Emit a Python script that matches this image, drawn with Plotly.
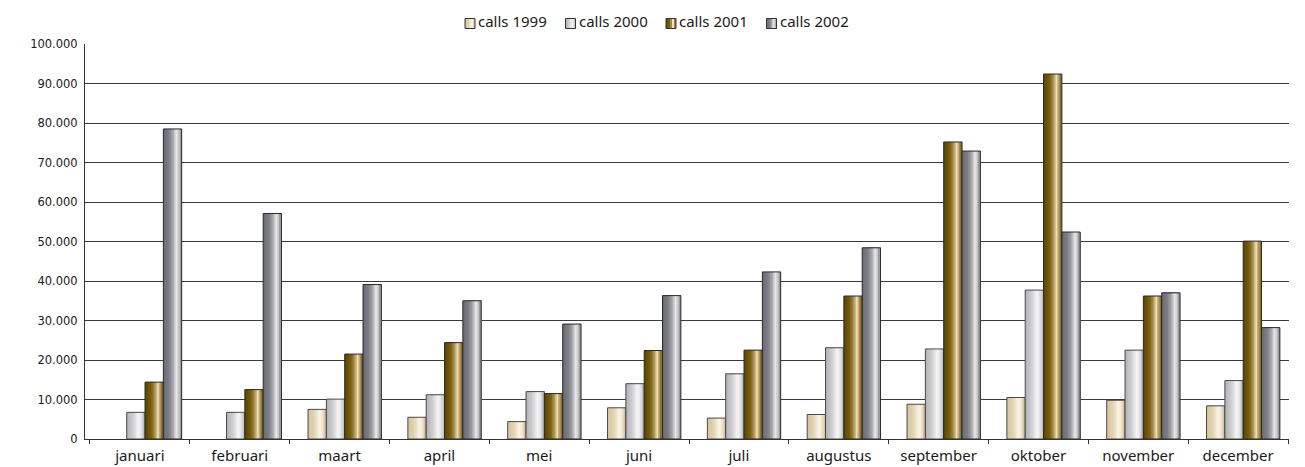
import plotly.graph_objects as go

# Monthly call volumes per year
months = ["januari", "februari", "maart", "april", "mei", "juni",
          "juli", "augustus", "september", "oktober", "november", "december"]

calls_1999 = [None, None, 7500, 5500, 4400, 7900, 5300, 6200, 8800, 10500, 9800, 8400]
calls_2000 = [6750, 6750, 10100, 11200, 12000, 14000, 16500, 23100, 22800, 37700, 22500, 14800]
calls_2001 = [14400, 12500, 21500, 24400, 11500, 22400, 22500, 36200, 75200, 92400, 36200, 50100]
calls_2002 = [78500, 57100, 39100, 35000, 29100, 36300, 42300, 48400, 72900, 52400, 37000, 28200]

series_names = ["calls 1999", "calls 2000", "calls 2001", "calls 2002"]
series_values = [calls_1999, calls_2000, calls_2001, calls_2002]

# Cylinder-like shading for each series: (position across bar, colour)
shading = [
    [(0.0, "#d6c49c"), (0.35, "#e2d4b4"), (0.65, "#fbf6ea"), (0.8, "#eee4cc"), (1.0, "#cfbd96")],
    [(0.0, "#b2b2b6"), (0.35, "#cfcfd2"), (0.65, "#f7f7f7"), (0.8, "#e2e2e4"), (1.0, "#b8b8bc")],
    [(0.0, "#5a4500"), (0.35, "#7a6112"), (0.58, "#b89e62"), (0.7, "#f0e4c4"), (0.82, "#b89c5c"), (1.0, "#7c6424")],
    [(0.0, "#696971"), (0.3, "#7e7e86"), (0.52, "#a4a4aa"), (0.7, "#e8e8ea"), (0.82, "#cfcfd2"), (1.0, "#8c8c92")],
]
outline_colors = ["#4a4a4a", "#4a4a4a", "#2b2b2b", "#2b2b2b"]

N_STRIPS = 12
BAR_W = 0.1836        # width of one bar in category units
GROUP_START = -0.316  # left edge of first bar relative to category centre

W, H = 1305, 467
M_L, M_R, M_T, M_B = 85, 16, 44, 28
PLOT_W = W - M_L - M_R
PLOT_H = H - M_T - M_B


def hex_to_rgb(h):
    h = h.lstrip("#")
    return tuple(int(h[i:i + 2], 16) for i in (0, 2, 4))


def shade_at(stops, t):
    for (p0, c0), (p1, c1) in zip(stops, stops[1:]):
        if p0 <= t <= p1:
            f = (t - p0) / (p1 - p0) if p1 > p0 else 0
            a, b = hex_to_rgb(c0), hex_to_rgb(c1)
            r = [round(a[i] + (b[i] - a[i]) * f) for i in range(3)]
            return "rgb({},{},{})".format(*r)
    return stops[-1][1]


def px_x(px):
    return (px - M_L) / PLOT_W


def px_y(py):
    return (H - M_B - py) / PLOT_H


fig = go.Figure()

for s, (name, vals) in enumerate(zip(series_names, series_values)):
    left = GROUP_START + s * BAR_W
    # vertical strips that build up the shading, each running to the right edge
    for k in range(N_STRIPS):
        t = (k + 0.5) / N_STRIPS
        fig.add_trace(go.Bar(
            x=months, y=vals, name=name, width=BAR_W * (1 - k / N_STRIPS),
            offset=left + BAR_W * k / N_STRIPS,
            marker=dict(color=shade_at(shading[s], t), line=dict(width=0)),
            showlegend=False, hoverinfo="skip",
        ))
    # outline on top
    fig.add_trace(go.Bar(
        x=months, y=vals, name=name, width=BAR_W, offset=left,
        marker=dict(color="rgba(0,0,0,0)", line=dict(color=outline_colors[s], width=1)),
        showlegend=False, hoverinfo="skip",
    ))

# Legend row above the plot: shaded swatch plus label per series
shapes, annotations = [], []
LEG_X0, LEG_STEP, BOX = 465, 100.5, 10
BOX_TOP, TEXT_Y = 18.5, 21.5
for s, name in enumerate(series_names):
    bx = LEG_X0 + s * LEG_STEP
    n = 5
    for k in range(n):
        shapes.append(dict(
            type="rect", xref="paper", yref="paper",
            x0=px_x(bx + BOX * k / n), x1=px_x(bx + BOX),
            y0=px_y(BOX_TOP + BOX), y1=px_y(BOX_TOP),
            fillcolor=shade_at(shading[s], (k + 0.5) / n), line=dict(width=0),
            layer="above",
        ))
    shapes.append(dict(
        type="rect", xref="paper", yref="paper",
        x0=px_x(bx), x1=px_x(bx + BOX), y0=px_y(BOX_TOP + BOX), y1=px_y(BOX_TOP),
        fillcolor="rgba(0,0,0,0)", line=dict(color="#333333", width=1), layer="above",
    ))
    annotations.append(dict(
        text=name, xref="paper", yref="paper", x=px_x(bx + BOX + 1), y=px_y(TEXT_Y),
        xanchor="left", yanchor="middle", showarrow=False,
        font=dict(family="Noto Sans", size=15, color="#1a1a1a"),
    ))

fig.update_layout(
    width=W, height=H,
    margin=dict(l=M_L, r=M_R, t=M_T, b=M_B, autoexpand=False),
    paper_bgcolor="white", plot_bgcolor="white",
    barmode="overlay",
    separators=",.",
    showlegend=False,
    font=dict(family="Noto Sans", size=15, color="#1a1a1a"),
    shapes=shapes,
    annotations=annotations,
    xaxis=dict(
        type="category", range=[-0.55, 11.51],
        showline=True, linecolor="#333333", linewidth=1,
        ticks="outside", tickson="boundaries", ticklen=4, tickcolor="#333333",
        ticklabelstandoff=3,
        showgrid=False, tickfont=dict(family="Noto Sans", size=15, color="#1a1a1a"),
    ),
    yaxis=dict(
        range=[0, 100000], dtick=10000, tickformat=",d",
        showline=True, linecolor="#333333", linewidth=1,
        showgrid=True, gridcolor="#3a3a3a", gridwidth=1,
        zeroline=False, ticks="", ticklabelstandoff=4,
        tickfont=dict(family="DejaVu Sans", size=11.5, color="#1a1a1a"),
    ),
)

fig.write_html("out.html")
